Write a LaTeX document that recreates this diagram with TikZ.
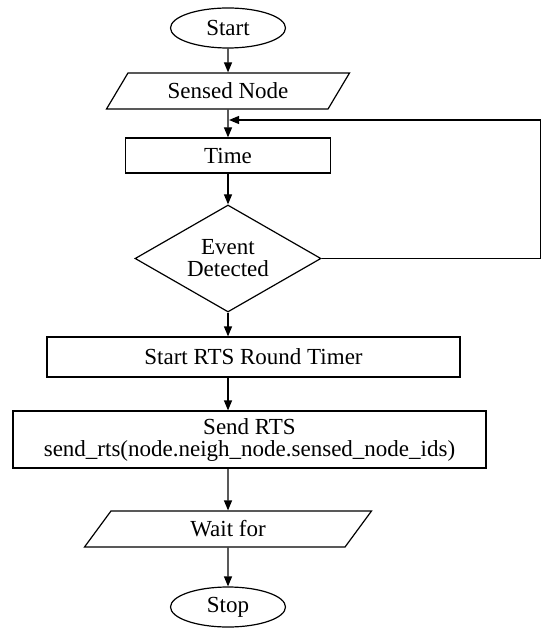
\documentclass[tikz,border=0pt]{standalone}
\usepackage{fontspec}
\setmainfont{Liberation Serif}
\usepackage{tikz}
\usetikzlibrary{shapes.geometric, arrows.meta, positioning, calc}

\begin{document}
\begin{tikzpicture}[
  x=0.5pt, y=-0.5pt,
  font=\fontsize{11.5}{11}\selectfont,
  term/.style   = {draw, ellipse, minimum width=57.5pt, minimum height=20pt,
                   inner sep=0pt},
  io/.style     = {draw, trapezium, trapezium stretches body,
                   minimum height=18pt, inner sep=0pt},
  proc/.style   = {draw, rectangle, inner sep=0pt, align=center},
  decide/.style = {draw, diamond, aspect=1.74, minimum width=93pt,
                   minimum height=53.5pt, inner sep=0pt, align=center},
  arr/.style    = {-{Triangle[length=5pt, width=4pt]}, line width=0.6pt},
  every node/.append style = {line width=0.6pt},
]
\useasboundingbox (0,0) rectangle (542,630);

% main column
\node[term] (start) at (228,28) {Start};
\node[io, trapezium left angle=37, trapezium right angle=143,
      minimum width=121.5pt] (sensed) at (228,91) {Sensed Node};
\node[proc, minimum width=102.5pt, minimum height=17.5pt] (time) at (228,155.5) {Time};
\node[decide] (event) at (228,258.5) {Event\\Detected};

% wide boxes
\node[proc, minimum width=206.5pt, minimum height=20pt] (rts) at (253.5,357) {Start RTS Round Timer};
\node[proc, minimum width=236.5pt, minimum height=28.5pt] (send) at (249.5,439.5)
  {Send RTS\\send\_rts(node.neigh\_node.sensed\_node\_ids)};

% output
\node[io, trapezium left angle=32, trapezium right angle=148,
      minimum width=143.5pt] (wait) at (228,529) {Wait for};
\node[term] (stop) at (228,607) {Stop};

% loop back point
\coordinate (loop) at (229,120);

% Arrows
\draw[arr] (start) -- (sensed);
\draw[arr] (sensed) -- (time);
\draw[arr] (time) -- (event);
\draw[arr] (event.south) -- (event.south |- rts.north);
\draw[arr] (event.south |- rts.south) -- (event.south |- send.north);
\draw[arr] (event.south |- send.south) -- (wait);
\draw[arr] (wait) -- (stop);
\draw[arr] (event.east) -- (540.5,258.5) |- (loop);
\end{tikzpicture}
\end{document}
